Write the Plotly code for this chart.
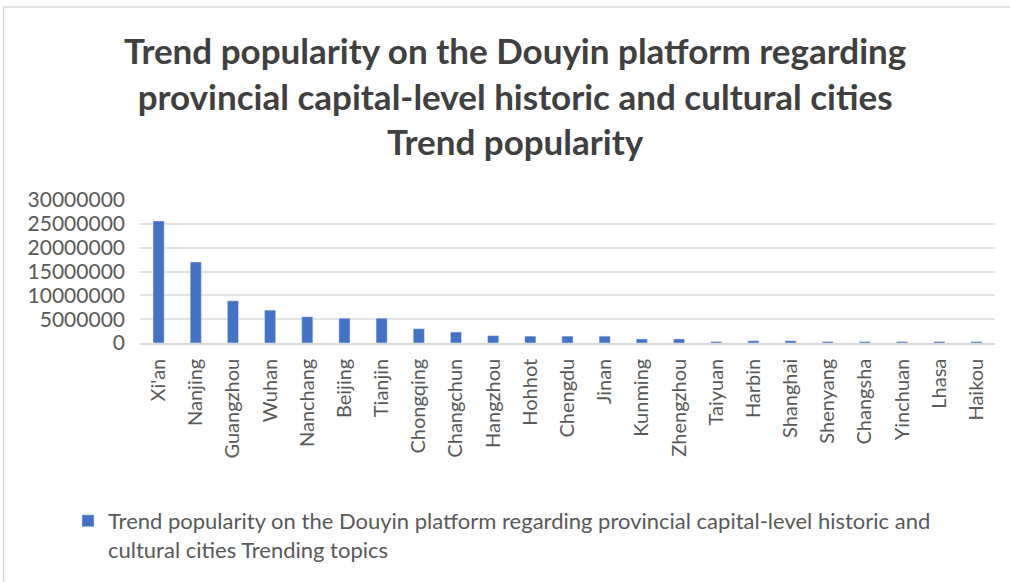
import plotly.graph_objects as go

cities = ["Xi'an", "Nanjing", "Guangzhou", "Wuhan", "Nanchang", "Beijing", "Tianjin",
          "Chongqing", "Changchun", "Hangzhou", "Hohhot", "Chengdu", "Jinan", "Kunming",
          "Zhengzhou", "Taiyuan", "Harbin", "Shanghai", "Shenyang", "Changsha",
          "Yinchuan", "Lhasa", "Haikou"]
popularity = [25600000, 17000000, 8850000, 6900000, 5500000, 5200000, 5200000,
              3000000, 2300000, 1550000, 1450000, 1450000, 1450000, 850000,
              850000, 300000, 480000, 480000, 300000, 300000,
              300000, 300000, 300000]
y_ticks = [0, 5000000, 10000000, 15000000, 20000000, 25000000, 30000000]

FONT = "Lato"
W, H = 1010, 582
L, R, T, B = 140, 15, 200, 239

fig = go.Figure()
fig.add_trace(go.Bar(
    x=cities, y=popularity,
    name="Trend popularity on the Douyin platform regarding provincial capital-level historic and<br>cultural cities Trending topics",
    marker=dict(color="#4472C4"),
    showlegend=True,
))

fig.update_layout(
    width=W, height=H,
    margin=dict(l=L, r=R, t=T, b=B, autoexpand=False),
    paper_bgcolor="white", plot_bgcolor="white",
    bargap=0.7,
    font=dict(family=FONT, color="#595959"),
    title=dict(
        text="<b>Trend popularity on the Douyin platform regarding<br>provincial capital-level historic and cultural cities<br>Trend popularity</b>",
        x=0.51, xanchor="center", xref="container",
        y=1 - 64 / H, yanchor="middle", yref="container",
        font=dict(family=FONT, size=35, color="#404040"),
    ),
    xaxis=dict(
        tickangle=-90, tickfont=dict(size=20, color="#595959"),
        showgrid=False, showline=True, linecolor="#D9D9D9", linewidth=1.5,
        ticks="", ticklabelstandoff=6,
    ),
    yaxis=dict(
        range=[0, 30000000], tickvals=y_ticks, ticktext=[str(v) for v in y_ticks],
        tickfont=dict(size=21, color="#595959"),
        showgrid=True, gridcolor="#E3E3E3", gridwidth=1.5,
        zeroline=False, showline=False, ticks="", ticklabelstandoff=14,
    ),
    legend=dict(
        orientation="h", xref="container", yref="container",
        x=68 / W, y=1 - 500 / H, xanchor="left", yanchor="top",
        font=dict(size=22, color="#595959"),
        itemwidth=30, valign="top",
    ),
    shapes=[
        dict(type="line", xref="paper", yref="paper",
             x0=(3 - L) / (W - L - R), x1=(W - L) / (W - L - R),
             y0=1 + (T - 7) / (H - T - B), y1=1 + (T - 7) / (H - T - B),
             line=dict(color="#D9D9D9", width=1.5)),
        dict(type="line", xref="paper", yref="paper",
             x0=(3.5 - L) / (W - L - R), x1=(3.5 - L) / (W - L - R),
             y0=1 + (T - 7) / (H - T - B), y1=-B / (H - T - B),
             line=dict(color="#D9D9D9", width=1.5)),
    ],
)

fig.write_html("out.html")
